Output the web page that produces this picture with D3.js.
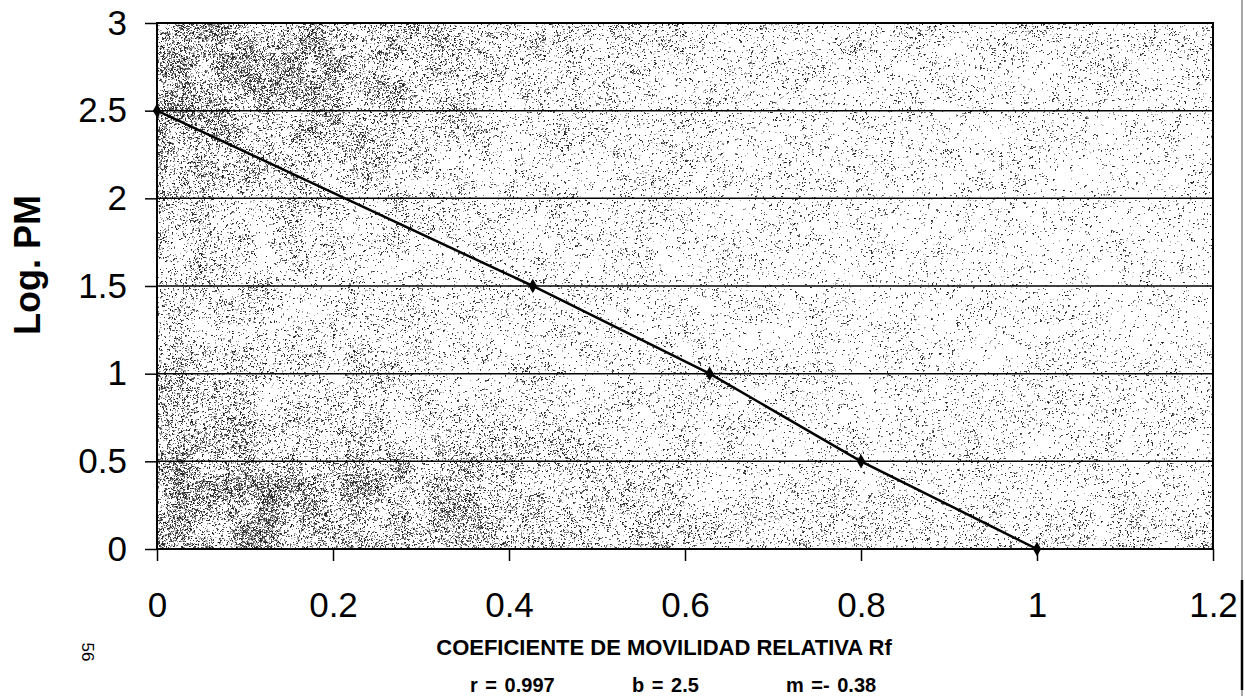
<!DOCTYPE html>
<html>
<head>
    <title>Log. PM vs Rf</title>
    <script src="https://d3js.org/d3.v7.min.js"></script>
    <style>
        body { margin: 0; background: #fff; }
        svg { display: block; }
        .axis text { font-family: Arial, "Liberation Sans", sans-serif; font-size: 35px; fill: #000; }
        .axis line { stroke: #000; stroke-width: 1.5px; }
        .grid line { stroke: #000; stroke-width: 1.5px; }
        .lbl { font-family: Arial, "Liberation Sans", sans-serif; font-weight: bold; fill: #000; }
    </style>
</head>
<body>
    <script>
        // data
        var rf = [0, 0.427, 0.628, 0.80, 1.0];
        var logPM = [2.5, 1.5, 1.0, 0.5, 0];
        var xTicks = [0, 0.2, 0.4, 0.6, 0.8, 1, 1.2];
        var yTicks = [0, 0.5, 1, 1.5, 2, 2.5, 3];
        var stats = ["r = 0.997", "b = 2.5", "m =- 0.38"];

        var W = 1245, H = 696;
        var pLeft = 157, pRight = 1213, pTop = 23, pBottom = 549;

        var svg = d3.select("body").append("svg")
            .attr("width", W)
            .attr("height", H);

        svg.append("rect").attr("width", W).attr("height", H).attr("fill", "#fff");

        var x = d3.scaleLinear().domain([0, 1.2]).range([pLeft, pRight]);
        var y = d3.scaleLinear().domain([0, 3]).range([pBottom, pTop]);

        // stippled scan background (seeded, only decoration)
        function mulberry32(a) {
            return function() {
                a |= 0; a = a + 0x6D2B79F5 | 0;
                var t = Math.imul(a ^ a >>> 15, 1 | a);
                t = t + Math.imul(t ^ t >>> 7, 61 | t) ^ t;
                return ((t ^ t >>> 14) >>> 0) / 4294967296;
            };
        }
        var rnd = mulberry32(1234);
        var pw = pRight - pLeft, ph = pBottom - pTop;
        var cell = 22;
        var gw = Math.ceil(pw / cell) + 2, gh = Math.ceil(ph / cell) + 2;
        var grid = [];
        for (var i = 0; i < gw * gh; i++) grid.push(rnd());
        function noise(px, py) {
            var gx = px / cell, gy = py / cell;
            var ix = Math.floor(gx), iy = Math.floor(gy);
            var fx = gx - ix, fy = gy - iy;
            fx = fx * fx * (3 - 2 * fx); fy = fy * fy * (3 - 2 * fy);
            var a = grid[iy * gw + ix], b = grid[iy * gw + ix + 1];
            var c = grid[(iy + 1) * gw + ix], d = grid[(iy + 1) * gw + ix + 1];
            return (a * (1 - fx) + b * fx) * (1 - fy) + (c * (1 - fx) + d * fx) * fy;
        }
        function density(u, v) {
            return 0.04
                + 0.12 * Math.exp(-u * 3.5)
                + 0.2 * Math.exp(-(((u - 0.1) * (u - 0.1)) / 0.03 + ((v - 0.1) * (v - 0.1)) / 0.025))
                + 0.22 * Math.exp(-(((u - 0.12) * (u - 0.12)) / 0.05 + ((v - 0.92) * (v - 0.92)) / 0.02))
                + 0.06 * Math.exp(-(1 - v) * 7)
                + 0.04 * Math.exp(-v * 8);
        }
        var canvas = document.createElement("canvas");
        canvas.width = pw; canvas.height = ph;
        var ctx = canvas.getContext("2d");
        var img = ctx.createImageData(pw, ph);
        for (var p = 0; p < pw * ph * 4; p++) img.data[p] = 255;
        function setPix(px, py, g) {
            if (px < 0 || py < 0 || px >= pw || py >= ph) return;
            var k = (py * pw + px) * 4;
            img.data[k] = Math.min(img.data[k], g);
            img.data[k + 1] = Math.min(img.data[k + 1], g);
            img.data[k + 2] = Math.min(img.data[k + 2], g);
        }
        for (var py = 0; py < ph; py++) {
            for (var px = 0; px < pw; px++) {
                var dd = density(px / pw, py / ph) * (0.3 + 1.4 * noise(px, py));
                if (rnd() < dd * 0.95) {
                    var g = rnd() < 0.55 ? 20 + rnd() * 70 : 110 + rnd() * 90;
                    setPix(px, py, g);
                    if (rnd() < 0.3) setPix(px + 1, py, g + 40);
                    if (rnd() < 0.25) setPix(px, py + 1, g + 40);
                }
            }
        }
        ctx.putImageData(img, 0, 0);
        svg.append("image")
            .attr("x", pLeft).attr("y", pTop)
            .attr("width", pw).attr("height", ph)
            .attr("href", canvas.toDataURL());

        // gridlines
        svg.append("g")
            .attr("class", "grid")
            .selectAll("line")
            .data(yTicks.filter(function(d) { return d > 0 && d < 3; }))
            .enter().append("line")
            .attr("x1", pLeft).attr("x2", pRight)
            .attr("y1", function(d) { return y(d); })
            .attr("y2", function(d) { return y(d); });

        // frame
        svg.append("rect")
            .attr("x", pLeft).attr("y", pTop)
            .attr("width", pw).attr("height", ph)
            .attr("fill", "none")
            .attr("stroke", "#000")
            .attr("stroke-width", 2);

        // axes
        var yAxis = svg.append("g")
            .attr("class", "axis")
            .attr("transform", "translate(" + pLeft + ",0)")
            .call(d3.axisLeft(y).tickValues(yTicks).tickSize(12).tickPadding(18).tickFormat(d3.format("")));
        yAxis.select(".domain").remove();

        var xAxis = svg.append("g")
            .attr("class", "axis")
            .attr("transform", "translate(0," + pBottom + ")")
            .call(d3.axisBottom(x).tickValues(xTicks).tickSize(12).tickPadding(31).tickFormat(d3.format("")));
        xAxis.select(".domain").remove();

        // series
        var pts = rf.map(function(d, i) { return [d, logPM[i]]; });
        svg.append("path")
            .datum(pts)
            .attr("fill", "none")
            .attr("stroke", "#000")
            .attr("stroke-width", 2.5)
            .attr("d", d3.line()
                .x(function(d) { return x(d[0]); })
                .y(function(d) { return y(d[1]); }));

        svg.append("g")
            .selectAll("path")
            .data(pts)
            .enter().append("path")
            .attr("d", d3.symbol().type(d3.symbolDiamond).size(60))
            .attr("transform", function(d) { return "translate(" + x(d[0]) + "," + y(d[1]) + ")"; })
            .attr("fill", "#000");

        // titles
        svg.append("text")
            .attr("class", "lbl")
            .attr("transform", "translate(40,265) rotate(-90)")
            .attr("text-anchor", "middle")
            .style("font-size", "36px")
            .text("Log. PM");

        svg.append("text")
            .attr("class", "lbl")
            .attr("x", 664).attr("y", 655)
            .attr("text-anchor", "middle")
            .style("font-size", "22px")
            .text("COEFICIENTE DE MOVILIDAD RELATIVA Rf");

        var statX = [470, 632, 786];
        svg.append("g")
            .selectAll("text")
            .data(stats)
            .enter().append("text")
            .attr("class", "lbl")
            .attr("x", function(d, i) { return statX[i]; })
            .attr("y", 692)
            .style("font-size", "20px")
            .style("word-spacing", "2px")
            .text(function(d) { return d; });

        // page number and scan edge
        svg.append("text")
            .attr("transform", "translate(82,652) rotate(90)")
            .attr("text-anchor", "middle")
            .style("font-family", "Arial, 'Liberation Sans', sans-serif")
            .style("font-size", "17px")
            .text("56");

        svg.append("line")
            .attr("x1", 1242).attr("x2", 1242).attr("y1", 0).attr("y2", H)
            .attr("stroke", "#888").attr("stroke-width", 1.5);
        svg.append("line")
            .attr("x1", 1242).attr("x2", 1242).attr("y1", 580).attr("y2", 690)
            .attr("stroke", "#000").attr("stroke-width", 2.5);
    </script>
</body>
</html>
